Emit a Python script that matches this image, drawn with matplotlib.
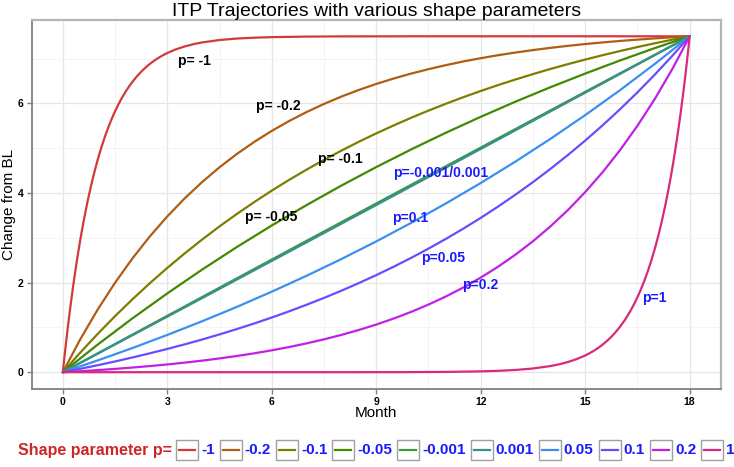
import matplotlib
matplotlib.use('Agg')
import matplotlib.pyplot as plt
from matplotlib.patches import Rectangle
from matplotlib.lines import Line2D

plt.rcParams['font.family'] = ['Liberation Sans', 'DejaVu Sans']

# ---------------- data ----------------
months = [0, 1, 2, 3, 4, 5, 6, 7, 8, 9, 10, 11, 12, 13, 14, 15, 16, 17, 18]
months_half = [0, 0.5, 1, 1.5, 2, 2.5, 3, 3.5, 4, 4.5, 5, 5.5, 6, 6.5, 7, 7.5, 8, 8.5, 9,
               9.5, 10, 10.5, 11, 11.5, 12, 12.5, 13, 13.5, 14, 14.5, 15, 15.5, 16, 16.5,
               17, 17.5, 18]

months_m1 = [0, 0.05, 0.1, 0.15, 0.2, 0.25, 0.3, 0.35, 0.4, 0.45, 0.5, 0.55, 0.6, 0.7, 0.8,
             0.9, 1.0, 1.1, 1.2, 1.3, 1.4, 1.5, 1.6, 1.7, 1.8, 1.9, 2.0, 2.125, 2.25, 2.375,
             2.5, 2.625, 2.75, 2.875, 3.0, 3.25, 3.5, 3.75, 4, 4.5, 5, 5.5, 6, 7, 8, 10, 12,
             14, 16, 18]
vals_m1 = [0, 0.366, 0.714, 1.045, 1.360, 1.659, 1.944, 2.215, 2.473, 2.718, 2.951, 3.173,
           3.384, 3.776, 4.130, 4.451, 4.741, 5.004, 5.241, 5.456, 5.650, 5.827, 5.986,
           6.130, 6.260, 6.378, 6.485, 6.604, 6.710, 6.802, 6.884, 6.957, 7.021, 7.077,
           7.127, 7.209, 7.274, 7.324, 7.363, 7.417, 7.450, 7.469, 7.481, 7.493, 7.498,
           7.500, 7.5, 7.5, 7.5, 7.5]

vals_m02 = [0, 0.734, 1.398, 1.998, 2.542, 3.034, 3.479, 3.882, 4.246, 4.576, 4.874, 5.144,
            5.388, 5.609, 5.809, 5.990, 6.154, 6.302, 6.436, 6.557, 6.667, 6.766, 6.856,
            6.938, 7.011, 7.078, 7.138, 7.192, 7.242, 7.286, 7.327, 7.363, 7.396, 7.426,
            7.453, 7.478, 7.5]
vals_m01 = [0, 0.438, 0.855, 1.252, 1.629, 1.988, 2.329, 2.653, 2.962, 3.256, 3.535, 3.801,
            4.054, 4.295, 4.523, 4.741, 4.948, 5.145, 5.332, 5.510, 5.680, 5.841, 5.994,
            6.140, 6.279, 6.411, 6.536, 6.656, 6.770, 6.878, 6.980, 7.078, 7.171, 7.260,
            7.344, 7.424, 7.5]
vals_m005 = [0, 0.616, 1.203, 1.760, 2.291, 2.796, 3.276, 3.732, 4.167, 4.580, 4.973,
             5.347, 5.702, 6.041, 6.362, 6.668, 6.960, 7.237, 7.5]
vals_m0001 = [0, 0.420, 0.840, 1.259, 1.678, 2.097, 2.515, 2.933, 3.350, 3.767, 4.183,
              4.599, 5.015, 5.430, 5.845, 6.259, 6.673, 7.087, 7.5]
vals_p0001 = [0, 0.413, 0.827, 1.241, 1.655, 2.070, 2.485, 2.901, 3.317, 3.733, 4.150,
              4.567, 4.985, 5.403, 5.822, 6.241, 6.660, 7.080, 7.5]
vals_p005 = [0, 0.263, 0.540, 0.832, 1.138, 1.459, 1.798, 2.153, 2.527, 2.920, 3.333,
             3.768, 4.224, 4.704, 5.209, 5.740, 6.297, 6.884, 7.5]
vals_p01 = [0, 0.076, 0.156, 0.240, 0.329, 0.422, 0.520, 0.622, 0.730, 0.844, 0.964, 1.089,
            1.221, 1.360, 1.506, 1.659, 1.820, 1.990, 2.168, 2.355, 2.552, 2.759, 2.977,
            3.205, 3.446, 3.699, 3.965, 4.244, 4.538, 4.847, 5.171, 5.512, 5.871, 6.248,
            6.645, 7.062, 7.5]
vals_p02 = [0, 0.022, 0.047, 0.074, 0.104, 0.137, 0.173, 0.214, 0.258, 0.308, 0.362, 0.422,
            0.489, 0.562, 0.644, 0.734, 0.833, 0.943, 1.064, 1.198, 1.346, 1.510, 1.691,
            1.891, 2.112, 2.356, 2.626, 2.924, 3.254, 3.618, 4.021, 4.466, 4.958, 5.502,
            6.102, 6.766, 7.5]

months_p1 = [0, 2, 4, 6, 8, 10, 11, 12, 12.5, 13, 13.5, 14, 14.25, 14.5, 14.75, 15, 15.125,
             15.25, 15.375, 15.5, 15.625, 15.75, 15.875, 16, 16.1, 16.2, 16.3, 16.4, 16.5,
             16.6, 16.7, 16.8, 16.9, 17.0, 17.1, 17.2, 17.3, 17.4, 17.45, 17.5, 17.55, 17.6,
             17.65, 17.7, 17.75, 17.8, 17.85, 17.9, 17.95, 18]
vals_p1 = [0, 0, 0, 0, 0.000, 0.002, 0.007, 0.019, 0.031, 0.050, 0.083, 0.137, 0.176, 0.226,
           0.291, 0.373, 0.423, 0.479, 0.543, 0.616, 0.698, 0.790, 0.896, 1.015, 1.122,
           1.240, 1.370, 1.514, 1.673, 1.850, 2.044, 2.259, 2.496, 2.759, 3.049, 3.370,
           3.724, 4.116, 4.327, 4.549, 4.782, 5.027, 5.285, 5.556, 5.841, 6.140, 6.455,
           6.786, 7.134, 7.5]

shape_labels = ['-1', '-0.2', '-0.1', '-0.05', '-0.001', '0.001', '0.05', '0.1', '0.2', '1']
shape_colors = ['#d23a3a', '#b05c12', '#7d7d00', '#3f8a00', '#3c9a3c', '#3a8f8f',
                '#3b8ff0', '#6a4cff', '#c21fe6', '#d82a7a']
series_x = [months_m1, months_half, months_half, months, months, months, months,
            months_half, months_half, months_p1]
series_y = [vals_m1, vals_m02, vals_m01, vals_m005, vals_m0001, vals_p0001,
            vals_p005, vals_p01, vals_p02, vals_p1]

ann_text = ['p= -1', 'p= -0.2', 'p= -0.1', 'p= -0.05', 'p=-0.001/0.001',
            'p=0.1', 'p=0.05', 'p=0.2', 'p=1']
ann_x = [3.78, 6.19, 7.97, 5.99, 10.84, 9.98, 10.93, 11.99, 16.98]
ann_y = [6.95, 5.95, 4.75, 3.46, 4.44, 3.45, 2.55, 1.95, 1.65]
ann_color = ['black', 'black', 'black', 'black', '#1a1aff', '#1a1aff', '#1a1aff',
             '#1a1aff', '#1a1aff']

# ---------------- figure ----------------
W, H = 734, 467
fig = plt.figure(figsize=(W / 100, H / 100), dpi=100)


def fx(px):
    return px / W


def fy(py):
    return 1 - py / H


left, right, top, bottom = 31.5, 721, 19.5, 389
ax = fig.add_axes([fx(left), fy(bottom), fx(right - left), (bottom - top) / H])

for x, y, c in zip(series_x, series_y, shape_colors):
    ax.plot(x, y, color=c, lw=1.6, solid_capstyle='round', solid_joinstyle='round')

for t, x, y, c in zip(ann_text, ann_x, ann_y, ann_color):
    ax.text(x, y, t, color=c, fontsize=10, fontweight='bold', ha='center', va='center')

ax.set_xlim(-0.9, 18.9)
ax.set_ylim(-0.375, 7.875)
ax.set_xticks([0, 3, 6, 9, 12, 15, 18])
ax.set_xticks([1.5, 4.5, 7.5, 10.5, 13.5, 16.5], minor=True)
ax.set_yticks([0, 2, 4, 6])
ax.set_yticks([1, 3, 5, 7], minor=True)
ax.grid(which='major', color='#e6e6e6', lw=0.9)
ax.grid(which='minor', color='#f3f3f3', lw=0.6)
ax.set_axisbelow(True)
ax.tick_params(which='major', length=3.5, width=1, color='#7f7f7f', labelsize=7.5,
               pad=2)
ax.tick_params(which='minor', length=0)
for lab in ax.get_xticklabels() + ax.get_yticklabels():
    lab.set_fontweight('bold')
for s in ['top', 'right']:
    ax.spines[s].set_color('#b5b5b5')
    ax.spines[s].set_linewidth(1.6)
for s in ['left', 'bottom']:
    ax.spines[s].set_color('#808080')
    ax.spines[s].set_linewidth(1.3)

fig.text(fx((left + right) / 2), fy(11), 'ITP Trajectories with various shape parameters',
         ha='center', va='center', fontsize=14)
fig.text(fx((left + right) / 2), fy(413), 'Month', ha='center', va='center', fontsize=11)
fig.text(fx(9), fy((top + bottom) / 2), 'Change from BL', ha='center', va='center',
         rotation=90, fontsize=11)

# ---------------- legend ----------------
ly = 450
fig.text(fx(18), fy(ly), 'Shape parameter p=', color='#cd2626', fontsize=11.5,
         fontweight='bold', ha='left', va='center')
fig.canvas.draw()
renderer = fig.canvas.get_renderer()
x = 176
for lab, c in zip(shape_labels, shape_colors):
    fig.add_artist(Rectangle((fx(x), fy(ly + 10)), 22 / W, 20 / H, transform=fig.transFigure,
                             facecolor='white', edgecolor='#a0a0a0', lw=1))
    fig.add_artist(Line2D([fx(x + 3), fx(x + 19)], [fy(ly), fy(ly)], transform=fig.transFigure,
                          color=c, lw=1.6))
    t = fig.text(fx(x + 25), fy(ly), lab, color='#1a1aff', fontsize=11, fontweight='bold',
                 ha='left', va='center')
    w = t.get_window_extent(renderer).width
    x = x + 25 + w + 5

fig.savefig('out.png', dpi=100)
